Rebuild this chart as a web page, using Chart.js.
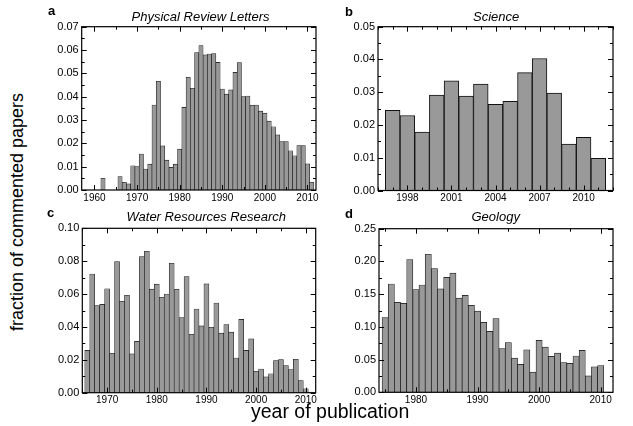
<!DOCTYPE html>
<html><head><meta charset="utf-8">
<script src="https://cdn.jsdelivr.net/npm/chart.js@4/dist/chart.umd.min.js"></script>
<style>
html,body{margin:0;padding:0;background:#fff;}
body{width:633px;height:426px;position:relative;overflow:hidden;font-family:"Liberation Sans",Arial,Helvetica,sans-serif;}
canvas{position:absolute;}
.lbl{position:absolute;white-space:nowrap;color:#000;}
.let{font-weight:bold;font-size:13px;line-height:13px;}
.ttl{font-style:italic;font-size:13px;line-height:13px;}
</style></head><body>
<canvas id="ca" width="292" height="212" style="left:30px;top:0px"></canvas>
<canvas id="cb" width="311" height="212" style="left:322px;top:0px"></canvas>
<canvas id="cc" width="292" height="212" style="left:30px;top:200px"></canvas>
<canvas id="cd" width="311" height="212" style="left:322px;top:200px"></canvas>
<div class="lbl let" style="left:48px;top:4px">a</div>
<div class="lbl let" style="left:345px;top:5px">b</div>
<div class="lbl let" style="left:47px;top:206px">c</div>
<div class="lbl let" style="left:345px;top:207px">d</div>
<div class="lbl ttl" id="t0" style="left:131.5px;top:10.3px"></div>
<div class="lbl ttl" id="t1" style="left:473px;top:10.3px"></div>
<div class="lbl ttl" id="t2" style="left:126.5px;top:209.7px"></div>
<div class="lbl ttl" id="t3" style="left:471.5px;top:209.7px"></div>
<div class="lbl" id="xl" style="left:251px;top:402px;font-size:19.5px;line-height:19.5px">year of publication</div>
<div class="lbl" id="yl" style="left:17px;top:212px;font-size:18px;line-height:18px;transform:translate(-50%,-50%) rotate(-90deg)">fraction of commented papers</div>
<script>
// ---- data ----
const prlYears = [1962, 1966, 1967, 1968, 1969, 1970, 1971, 1972, 1973, 1974, 1975, 1976, 1977, 1978, 1979,
  1980, 1981, 1982, 1983, 1984, 1985, 1986, 1987, 1988, 1989, 1990, 1991, 1992, 1993, 1994, 1995, 1996,
  1997, 1998, 1999, 2000, 2001, 2002, 2003, 2004, 2005, 2006, 2007, 2008, 2009, 2010, 2011];
const prlValues = [0.0050, 0.0058, 0.0033, 0.0026, 0.0104, 0.0100, 0.0154, 0.0090, 0.0111, 0.0364, 0.0466,
  0.0189, 0.0128, 0.0097, 0.0111, 0.0175, 0.0354, 0.0483, 0.0436, 0.0589, 0.0619, 0.0579, 0.0583, 0.0585,
  0.0547, 0.0433, 0.0411, 0.0429, 0.0504, 0.0546, 0.0400, 0.0403, 0.0363, 0.0364, 0.0338, 0.0329, 0.0295,
  0.0271, 0.0236, 0.0208, 0.0208, 0.0168, 0.0147, 0.0190, 0.0190, 0.0112, 0.0033];

const sciYears = [1997, 1998, 1999, 2000, 2001, 2002, 2003, 2004, 2005, 2006, 2007, 2008, 2009, 2010, 2011];
const sciValues = [0.0245, 0.0229, 0.0178, 0.0291, 0.0335, 0.0288, 0.0325, 0.0263, 0.0272, 0.0360, 0.0403,
  0.0297, 0.0142, 0.0162, 0.0098];

const wrrYears = [1966, 1967, 1968, 1969, 1970, 1971, 1972, 1973, 1974, 1975, 1976, 1977, 1978, 1979, 1980,
  1981, 1982, 1983, 1984, 1985, 1986, 1987, 1988, 1989, 1990, 1991, 1992, 1993, 1994, 1995, 1996, 1997,
  1998, 1999, 2000, 2001, 2002, 2003, 2004, 2005, 2006, 2007, 2008, 2009, 2010, 2011];
const wrrValues = [0.0257, 0.0722, 0.0530, 0.0537, 0.0632, 0.0240, 0.0798, 0.0556, 0.0593, 0.0236, 0.0312,
  0.0828, 0.0860, 0.0630, 0.0660, 0.0580, 0.0600, 0.0787, 0.0629, 0.0457, 0.0707, 0.0355, 0.0509, 0.0406,
  0.0662, 0.0398, 0.0545, 0.0362, 0.0415, 0.0368, 0.0211, 0.0446, 0.0257, 0.0327, 0.0130, 0.0144, 0.0096,
  0.0115, 0.0195, 0.0201, 0.0165, 0.0141, 0.0203, 0.0073, 0.0024, 0.0004];

const geoYears = [1975, 1976, 1977, 1978, 1979, 1980, 1981, 1982, 1983, 1984, 1985, 1986, 1987, 1988, 1989,
  1990, 1991, 1992, 1993, 1994, 1995, 1996, 1997, 1998, 1999, 2000, 2001, 2002, 2003, 2004, 2005, 2006,
  2007, 2008, 2009, 2010];
const geoValues = [0.114, 0.1655, 0.1375, 0.136, 0.203, 0.157, 0.164, 0.211, 0.189, 0.158, 0.1757, 0.182,
  0.144, 0.148, 0.133, 0.124, 0.107, 0.093, 0.1125, 0.0667, 0.076, 0.0524, 0.0428, 0.065, 0.031, 0.0794,
  0.069, 0.055, 0.060, 0.0453, 0.0443, 0.0555, 0.064, 0.025, 0.039, 0.041];

// tick labels
const prlXTicks = [1960, 1970, 1980, 1990, 2000, 2010];
const prlYTicks = [0, 0.01, 0.02, 0.03, 0.04, 0.05, 0.06, 0.07];
const sciXTicks = [1998, 2001, 2004, 2007, 2010];
const sciYTicks = [0, 0.01, 0.02, 0.03, 0.04, 0.05];
const wrrXTicks = [1970, 1980, 1990, 2000, 2010];
const wrrYTicks = [0, 0.02, 0.04, 0.06, 0.08, 0.10];
const geoXTicks = [1980, 1990, 2000, 2010];
const geoYTicks = [0, 0.05, 0.10, 0.15, 0.20, 0.25];

const titles = ['Physical Review Letters', 'Science', 'Water Resources Research', 'Geology'];
titles.forEach((t, i) => { document.getElementById('t' + i).textContent = t; });

// ---- drawing ----
const FONT = '"Liberation Sans", Arial, Helvetica, sans-serif';

const frameTicks = {
  id: 'frameTicks',
  afterDatasetsDraw(chart, args, o) {
    const {ctx, chartArea: a} = chart;
    const xs = chart.scales.x, ys = chart.scales.y;
    ctx.save();
    ctx.strokeStyle = '#000';
    ctx.lineWidth = 1;
    ctx.beginPath();
    const n = Math.round((xs.max - xs.min) / o.xMinor) + 2;
    const x0 = Math.ceil(xs.min / o.xMinor) * o.xMinor;
    for (let i = 0; i < n; i++) {
      const v = x0 + i * o.xMinor;
      if (v > xs.max) break;
      const p = Math.round(xs.getPixelForValue(v)) + 0.5;
      const major = o.xMajor.some(m => Math.abs(m - v) < 1e-6);
      const L = major ? 5 : 3;
      ctx.moveTo(p, a.bottom); ctx.lineTo(p, a.bottom - L);
      ctx.moveTo(p, a.top); ctx.lineTo(p, a.top + L);
    }
    const m = Math.round((ys.max - ys.min) / o.yMinor);
    for (let i = 0; i <= m; i++) {
      const v = ys.min + i * o.yMinor;
      const p = Math.round(ys.getPixelForValue(v)) + 0.5;
      const L = (i % 2 === 0) ? 5 : 3;
      ctx.moveTo(a.left, p); ctx.lineTo(a.left + L, p);
      ctx.moveTo(a.right, p); ctx.lineTo(a.right - L, p);
    }
    ctx.stroke();
    ctx.lineWidth = 1.2;
    ctx.strokeRect(a.left, a.top, a.right - a.left, a.bottom - a.top);
    ctx.restore();
  }
};

function makePanel(id, cfg) {
  const data = cfg.years.map((yr, i) => ({x: yr, y: cfg.values[i]}));
  new Chart(document.getElementById(id), {
    type: 'bar',
    data: {datasets: [{
      data,
      backgroundColor: '#999999',
      borderColor: '#111111',
      borderWidth: cfg.bw,
      barPercentage: 1,
      categoryPercentage: 1
    }]},
    options: {
      responsive: false,
      animation: false,
      devicePixelRatio: 1,
      layout: {padding: {left: 0, right: cfg.padRight, top: cfg.padTop, bottom: 0}},
      plugins: {
        legend: {display: false},
        tooltip: {enabled: false},
        title: {display: false},
        frameTicks: {xMajor: cfg.xTicks, xMinor: cfg.xMinor, yMinor: cfg.yMinor}
      },
      scales: {
        x: {
          type: 'linear', offset: false, min: cfg.xMin, max: cfg.xMax,
          grid: {display: false, drawTicks: false}, border: {display: false},
          afterBuildTicks: s => { s.ticks = cfg.xTicks.map(v => ({value: v})); },
          afterFit: s => { s.height = cfg.xH; },
          ticks: {color: '#000', font: {family: FONT, size: 10}, padding: 2, maxRotation: 0, autoSkip: false,
                  callback: v => String(v)}
        },
        y: {
          type: 'linear', min: 0, max: cfg.yTicks[cfg.yTicks.length - 1],
          grid: {display: false, drawTicks: false}, border: {display: false},
          afterBuildTicks: s => { s.ticks = cfg.yTicks.map(v => ({value: v})); },
          afterFit: s => { s.width = cfg.yW; },
          ticks: {color: '#000', font: {family: FONT, size: 11}, padding: 3,
                  callback: v => Number(v).toFixed(2)}
        }
      }
    },
    plugins: [frameTicks]
  });
}

makePanel('ca', {years: prlYears, values: prlValues, xTicks: prlXTicks, yTicks: prlYTicks,
  xMin: 1957, xMax: 2012, xMinor: 5, yMinor: 0.005, bw: 0.6, padRight: 6, padTop: 26.7, yW: 51.7, xH: 22});
makePanel('cb', {years: sciYears, values: sciValues, xTicks: sciXTicks, yTicks: sciYTicks,
  xMin: 1996, xMax: 2012, xMinor: 1, yMinor: 0.005, bw: 1, padRight: 20, padTop: 26.7, yW: 56, xH: 21.5});
makePanel('cc', {years: wrrYears, values: wrrValues, xTicks: wrrXTicks, yTicks: wrrYTicks,
  xMin: 1965, xMax: 2012, xMinor: 5, yMinor: 0.01, bw: 0.6, padRight: 6.3, padTop: 28.3, yW: 52.3, xH: 19.3});
makePanel('cd', {years: geoYears, values: geoValues, xTicks: geoXTicks, yTicks: geoYTicks,
  xMin: 1974, xMax: 2012, xMinor: 5, yMinor: 0.025, bw: 0.7, padRight: 20, padTop: 28.7, yW: 57, xH: 19.7});
</script>
</body></html>
